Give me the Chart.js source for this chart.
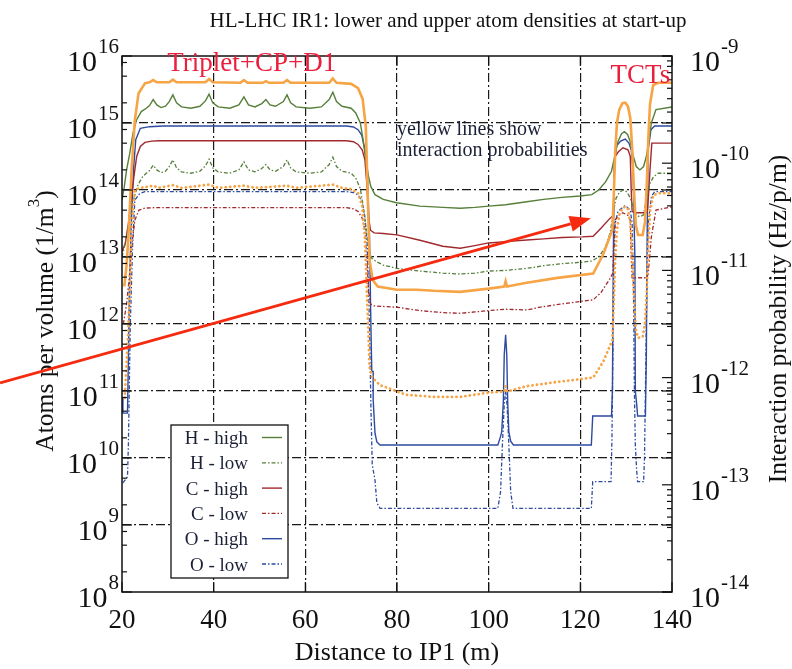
<!DOCTYPE html>
<html>
<head>
<meta charset="utf-8">
<title>HL-LHC IR1 atom densities</title>
<script src="https://cdn.jsdelivr.net/npm/chart.js@4.4.1/dist/chart.umd.min.js"></script>
<style>
  html, body { margin: 0; padding: 0; background: #ffffff; }
  #c { display: block; }
</style>
</head>
<body>
<canvas id="c" width="792" height="669" style="width:792px;height:669px"></canvas>
<script>
// ---------------------------------------------------------------------------
// Data: [distance to IP1 (m), log10(value)]
// Densities in atoms per m^3 (left axis), probabilities in Hz/p/m (right axis)
// ---------------------------------------------------------------------------
const hHigh = [
  [20.0,13.85],[20.5,14.05],[21.0,14.3],[21.7,14.55],[22.4,14.85],[23.2,15.05],[24.2,15.17],[25.3,15.22],
  [26.0,15.26],[26.8,15.35],[27.6,15.27],[28.5,15.23],[29.5,15.25],[30.3,15.32],[31.1,15.42],[31.9,15.3],
  [33.0,15.24],[35.0,15.22],[37.0,15.25],[38.2,15.33],[39.0,15.43],[39.8,15.3],[41.0,15.24],[43.5,15.22],
  [45.5,15.27],[46.6,15.39],[47.6,15.27],[49.0,15.24],[50.5,15.29],[51.4,15.35],[52.3,15.27],[53.5,15.25],
  [55.2,15.32],[56.0,15.42],[56.8,15.3],[58.0,15.24],[61.0,15.22],[63.5,15.24],[65.2,15.35],[66.0,15.46],
  [66.8,15.32],[68.0,15.25],[70.0,15.22],[71.0,15.15],[72.0,15.0],[72.6,14.75],[73.2,14.45],[73.8,14.2],
  [74.3,14.05],[75.2,13.93],[77.0,13.86],[79.9,13.81],[85.0,13.76],[90.0,13.74],[93.8,13.727],[97.0,13.74],
  [100.0,13.76],[103.7,13.78],[108.3,13.825],[112.0,13.86],[116.0,13.89],[120.0,13.91],[122.5,13.93],
  [124.0,14.0],[125.5,14.12],[126.8,14.28],[127.5,14.5],[128.2,14.72],[129.0,14.84],[129.6,14.87],
  [130.3,14.83],[130.9,14.72],[131.5,14.52],[132.2,14.35],[133.0,14.30],[133.8,14.35],[134.4,14.5],
  [134.9,14.7],[135.5,15.0],[136.5,15.2],[140.0,15.24]
];
const hLow = [
  [20.0,13.0],[20.7,13.2],[21.4,13.45],[22.0,13.7],[22.7,13.9],[23.5,14.08],[24.5,14.2],[25.3,14.25],
  [26.0,14.29],[26.8,14.37],[27.6,14.3],[28.5,14.26],[29.5,14.28],[30.3,14.35],[31.1,14.45],[31.9,14.33],
  [33.0,14.27],[35.0,14.25],[37.0,14.28],[38.2,14.36],[39.0,14.46],[39.8,14.33],[41.0,14.27],[43.5,14.25],
  [45.5,14.3],[46.6,14.42],[47.6,14.3],[49.0,14.27],[50.5,14.32],[51.4,14.38],[52.3,14.3],[53.5,14.28],
  [55.2,14.35],[56.0,14.45],[56.8,14.33],[58.0,14.27],[61.0,14.25],[63.5,14.27],[65.2,14.38],[66.0,14.49],
  [66.8,14.35],[68.0,14.28],[70.0,14.25],[71.0,14.18],[72.0,14.02],[72.7,13.72],[73.3,13.38],[73.9,13.12],
  [74.5,12.98],[75.5,12.93],[77.0,12.88],[79.9,12.83],[85.0,12.79],[90.0,12.76],[93.8,12.746],[97.0,12.76],
  [100.0,12.79],[103.7,12.8],[108.3,12.83],[112.0,12.87],[116.0,12.9],[120.0,12.92],[122.5,12.94],
  [124.0,13.0],[125.5,13.15],[126.5,13.36],[127.3,13.7],[127.8,13.88],[128.6,13.97],[129.4,14.0],
  [130.2,13.97],[130.9,13.88],[131.6,13.72],[132.3,13.62],[133.0,13.6],[133.8,13.63],[134.5,13.9],
  [135.2,14.1],[136.0,14.2],[137.0,14.25],[140.0,14.25]
];
const cHigh = [
  [20.0,13.08],[20.7,13.2],[21.4,13.5],[22.0,13.85],[22.6,14.2],[23.2,14.5],[24.0,14.65],[25.0,14.71],
  [26.5,14.73],[28.0,14.736],[69.0,14.736],[70.5,14.72],[71.5,14.68],[72.4,14.6],[73.0,14.45],[73.4,14.1],
  [73.8,13.6],[74.2,13.4],[75.0,13.36],[77.0,13.35],[80.0,13.33],[85.0,13.25],[90.0,13.16],[93.8,13.13],
  [97.0,13.17],[100.0,13.21],[103.7,13.23],[108.3,13.254],[112.0,13.27],[116.0,13.29],[120.4,13.30],
  [122.8,13.31],[124.5,13.43],[126.5,13.58],[127.2,13.62],[127.4,14.2],[127.6,14.5],[128.3,14.57],
  [129.3,14.63],[130.4,14.6],[130.9,14.5],[131.1,14.0],[131.3,13.68],[132.0,13.66],[134.5,13.66],
  [134.7,13.72],[135.2,14.3],[135.6,14.7],[140.0,14.70]
];
const cLow = [
  [20.3,12.0],[21.0,12.3],[21.6,12.7],[22.1,13.15],[22.8,13.55],[23.7,13.70],[25.0,13.73],[27.0,13.736],
  [69.0,13.736],[70.5,13.72],[71.5,13.68],[72.4,13.58],[73.0,13.4],[73.4,13.0],[73.8,12.5],[74.2,12.3],
  [75.0,12.27],[80.0,12.25],[85.0,12.2],[90.0,12.17],[93.8,12.16],[97.0,12.18],[100.0,12.2],[103.7,12.22],
  [108.3,12.21],[112.0,12.26],[116.0,12.3],[120.4,12.34],[122.8,12.36],[124.5,12.47],[126.5,12.68],
  [127.1,12.76],[127.3,13.2],[127.6,13.55],[128.3,13.62],[129.3,13.66],[130.4,13.62],[130.9,13.55],
  [131.1,13.0],[131.3,12.69],[134.5,12.69],[134.8,12.75],[135.5,13.3],[136.5,13.70],[140.0,13.75]
];
const oHigh = [
  [20.0,10.9],[20.2,10.67],[21.2,10.67],[21.4,11.5],[21.6,12.46],[22.0,13.45],[22.5,14.3],[23.0,14.75],
  [24.0,14.92],[26.0,14.945],[29.0,14.955],[69.0,14.955],[70.5,14.94],[71.5,14.9],[72.3,14.82],[73.0,14.6],
  [73.5,14.3],[74.0,13.3],[74.3,12.0],[74.5,11.29],[74.8,11.29],[74.8,10.87],[75.2,10.37],[75.6,10.24],
  [76.3,10.194],[102.0,10.194],[102.5,10.3],[102.85,10.39],[103.2,10.84],[103.4,11.54],[103.7,11.84],
  [103.95,11.54],[104.15,10.84],[104.4,10.39],[104.8,10.25],[105.4,10.194],[122.4,10.194],[122.7,10.627],
  [126.8,10.627],[127.0,11.0],[127.2,13.0],[127.4,14.4],[127.9,14.66],[128.8,14.73],[129.8,14.76],
  [130.6,14.7],[131.1,14.6],[131.5,14.3],[131.9,13.0],[132.0,11.0],[132.3,10.8],[132.5,10.627],
  [134.2,10.627],[134.4,11.5],[134.6,13.5],[134.8,14.6],[135.4,14.9],[136.2,14.955],[140.0,14.955]
];
const oLow = [
  [20.2,9.63],[21.2,9.72],[21.4,10.22],[21.8,11.96],[22.3,13.15],[22.8,13.85],[23.9,13.95],[25.0,13.975],
  [69.0,13.975],[70.5,13.96],[71.5,13.93],[72.3,13.85],[73.0,13.6],[73.5,13.2],[74.0,12.0],[74.3,10.8],
  [74.6,9.9],[75.2,9.67],[75.6,9.33],[76.3,9.249],[102.0,9.249],[102.6,9.5],[103.0,10.2],[103.4,10.8],
  [103.7,11.0],[104.0,10.8],[104.4,10.2],[104.8,9.5],[105.3,9.249],[122.4,9.249],[122.7,9.646],
  [126.7,9.646],[126.9,10.3],[127.1,11.5],[127.3,12.8],[127.6,13.5],[128.2,13.68],[129.8,13.77],
  [130.9,13.7],[131.3,13.5],[131.6,12.5],[131.8,11.0],[132.0,10.2],[132.3,9.8],[132.5,9.646],
  [133.8,9.646],[134.0,10.0],[134.2,11.0],[134.5,12.5],[134.8,13.5],[135.5,13.9],[136.2,13.975],[140.0,13.975]
];
const probHigh = [
  [20.5,-11.15],[21.0,-10.95],[21.4,-10.69],[22.1,-10.06],[22.8,-9.6],[23.6,-9.35],[25.0,-9.255],[26.0,-9.245],
  [26.8,-9.225],[27.6,-9.245],[30.3,-9.245],[31.1,-9.22],[31.9,-9.245],[38.2,-9.245],[39.0,-9.215],[39.8,-9.245],
  [45.8,-9.25],[46.6,-9.225],[47.4,-9.25],[50.7,-9.25],[51.4,-9.235],[52.1,-9.25],[55.2,-9.25],[56.0,-9.225],
  [56.8,-9.25],[65.2,-9.25],[66.0,-9.21],[66.8,-9.25],[70.0,-9.26],[71.5,-9.3],[72.5,-9.4],[73.2,-9.66],
  [73.6,-10.28],[74.0,-10.9],[74.7,-11.09],[75.8,-11.15],[80.0,-11.18],[84.3,-11.18],[88.0,-11.19],
  [93.75,-11.20],[100.0,-11.17],[103.4,-11.15],[103.7,-11.10],[104.0,-11.15],[108.3,-11.115],[115.0,-11.07],
  [122.8,-11.03],[125.0,-10.85],[127.0,-10.62],[127.3,-10.3],[127.6,-9.9],[128.0,-9.62],[128.5,-9.5],
  [129.2,-9.44],[129.8,-9.435],[130.4,-9.47],[130.9,-9.58],[131.3,-9.85],[131.7,-10.25],[132.1,-10.58],
  [132.6,-10.67],[133.6,-10.67],[134.1,-10.55],[134.5,-10.2],[134.8,-9.8],[135.2,-9.45],[135.9,-9.27],
  [137.0,-9.25],[140.0,-9.25]
];
const probLow = [
  [20.6,-12.19],[21.1,-11.8],[21.7,-11.21],[22.1,-10.59],[22.8,-10.25],[24.0,-10.23],[26.8,-10.21],[28.0,-10.23],
  [31.1,-10.205],[33.0,-10.23],[39.0,-10.2],[41.0,-10.23],[46.6,-10.21],[49.0,-10.23],[56.0,-10.21],[58.0,-10.23],
  [66.0,-10.2],[68.0,-10.23],[70.0,-10.24],[71.5,-10.28],[72.4,-10.4],[73.0,-10.7],[73.6,-11.4],[74.0,-11.9],
  [74.6,-12.0],[76.3,-12.07],[82.0,-12.16],[88.0,-12.18],[93.75,-12.18],[100.0,-12.14],[103.4,-12.13],
  [103.7,-12.08],[104.0,-12.13],[108.3,-12.08],[115.0,-12.04],[122.8,-12.0],[125.0,-11.85],[127.0,-11.65],
  [127.3,-11.3],[127.6,-10.9],[128.0,-10.62],[128.5,-10.48],[129.2,-10.42],[129.8,-10.405],[130.4,-10.43],
  [130.9,-10.55],[131.3,-10.85],[131.7,-11.25],[132.1,-11.55],[132.6,-11.63],[133.6,-11.62],[134.1,-11.5],
  [134.5,-11.2],[134.8,-10.8],[135.2,-10.45],[135.9,-10.3],[137.0,-10.28],[140.0,-10.28]
];

// Axis ranges and tick labels
const xTicks = [20, 40, 60, 80, 100, 120, 140];
const densityDecades = [8, 9, 10, 11, 12, 13, 14, 15, 16];
const probDecades = [-14, -13, -12, -11, -10, -9];
const seriesNames = ['H - high', 'H - low', 'C - high', 'C - low', 'O - high', 'O - low'];

// Text annotations, placed in data coordinates [x (m), log10 density]
const regionLabels = [
  { text: 'Triplet+CP+D1', at: [48.3, 15.78] },
  { text: 'TCTs', at: [133.1, 15.6] }
];
const noteLines = ['yellow lines show', 'interaction probabilities'];
const notePos = [80.0, 14.82];
const arrowFrom = [-6.6, 11.12];
const arrowTo = [122.3, 13.58];

// ---------------------------------------------------------------------------
const FONT = '"Liberation Serif", "Times New Roman", Times, serif';
const INK = '#1b2036';
const toPts = arr => arr.map(([x, l]) => ({ x: x, y: Math.pow(10, l) }));

const GREEN = '#567f3a', RED = '#a0292e', BLUE = '#2c4ba0', ORANGE = '#f6a445';
const DASH_LOW = [4, 2, 1.5, 2];

const datasets = [
  { label: 'probability (upper)', data: toPts(probHigh), yAxisID: 'y2', borderColor: ORANGE, borderWidth: 2.6, order: 0 },
  { label: 'probability (lower)', data: toPts(probLow), yAxisID: 'y2', borderColor: ORANGE, borderWidth: 2.8,
    borderDash: [0.1, 4.4], borderCapStyle: 'round', order: 0 },
  { label: seriesNames[0], data: toPts(hHigh), yAxisID: 'y', borderColor: GREEN, borderWidth: 1.4, order: 1, key: true },
  { label: seriesNames[1], data: toPts(hLow), yAxisID: 'y', borderColor: GREEN, borderWidth: 1.3, borderDash: DASH_LOW, order: 1, key: true },
  { label: seriesNames[2], data: toPts(cHigh), yAxisID: 'y', borderColor: RED, borderWidth: 1.4, order: 1, key: true },
  { label: seriesNames[3], data: toPts(cLow), yAxisID: 'y', borderColor: RED, borderWidth: 1.3, borderDash: DASH_LOW, order: 1, key: true },
  { label: seriesNames[4], data: toPts(oHigh), yAxisID: 'y', borderColor: BLUE, borderWidth: 1.4, order: 1, key: true },
  { label: seriesNames[5], data: toPts(oLow), yAxisID: 'y', borderColor: BLUE, borderWidth: 1.3, borderDash: DASH_LOW, order: 1, key: true }
];
datasets.forEach(d => { d.pointRadius = 0; d.tension = 0; d.fill = false; });

const GRID_DASH = [9, 3, 2, 3];
const gridColor = ends => ctx => (ends.includes(ctx.tick && ctx.tick.value) ? 'rgba(0,0,0,0)' : '#1a1a1a');

// "10" with a raised exponent
function drawPower(ctx, exp, x, y, align) {
  ctx.font = '30px ' + FONT;
  const wb = ctx.measureText('10').width;
  ctx.font = '21px ' + FONT;
  const we = ctx.measureText(exp).width;
  const x0 = align === 'right' ? x - wb - we - 1 : x;
  ctx.textAlign = 'left';
  ctx.textBaseline = 'alphabetic';
  ctx.font = '30px ' + FONT;
  ctx.fillText('10', x0, y + 15);
  ctx.font = '21px ' + FONT;
  ctx.fillText(exp, x0 + wb + 1, y - 3);
}

function seg(ctx, x1, y1, x2, y2) {
  ctx.beginPath(); ctx.moveTo(x1, y1); ctx.lineTo(x2, y2); ctx.stroke();
}

const background = {
  id: 'background',
  beforeDraw(chart) {
    const ctx = chart.ctx;
    ctx.save(); ctx.fillStyle = '#ffffff'; ctx.fillRect(0, 0, chart.width, chart.height); ctx.restore();
  }
};

const frameAndText = {
  id: 'frameAndText',
  afterDatasetsDraw(chart) {
    const { ctx, chartArea: a, scales: { x, y, y2 } } = chart;
    ctx.save();

    // frame
    ctx.strokeStyle = '#111'; ctx.lineWidth = 1.5; ctx.setLineDash([]);
    ctx.strokeRect(a.left, a.top, a.right - a.left, a.bottom - a.top);

    // inward tick marks
    ctx.lineWidth = 1.2;
    xTicks.forEach(v => {
      const px = x.getPixelForValue(v);
      seg(ctx, px, a.bottom, px, a.bottom - 10);
      seg(ctx, px, a.top, px, a.top + 10);
    });
    densityDecades.forEach(k => {
      const py = y.getPixelForValue(Math.pow(10, k));
      seg(ctx, a.left, py, a.left + 10, py);
      seg(ctx, a.right, py, a.right - 10, py);
      if (k < 16) {
        [2, 5, 8].forEach(m => {
          const pm = y.getPixelForValue(m * Math.pow(10, k));
          seg(ctx, a.left, pm, a.left + 5, pm);
        });
      }
    });
    probDecades.forEach(k => {
      const py = y2.getPixelForValue(Math.pow(10, k));
      seg(ctx, a.right, py, a.right - 10, py);
      if (k < -9) {
        for (let m = 2; m <= 9; m++) {
          const pm = y2.getPixelForValue(m * Math.pow(10, k));
          seg(ctx, a.right, pm, a.right - 5, pm);
        }
      }
    });

    // key box
    const bx = 171, by = 425, bw = 117, bh = 153;
    ctx.fillStyle = '#ffffff';
    ctx.fillRect(bx, by, bw, bh);
    ctx.strokeStyle = '#111'; ctx.lineWidth = 1.3;
    ctx.strokeRect(bx, by, bw, bh);
    const keyed = chart.data.datasets.filter(d => d.key);
    ctx.font = '19px ' + FONT;
    ctx.textAlign = 'right'; ctx.textBaseline = 'alphabetic';
    keyed.forEach((d, i) => {
      const base = by + 19 + i * 25.3;
      ctx.fillStyle = INK;
      ctx.fillText(d.label, bx + 77, base);
      ctx.strokeStyle = d.borderColor; ctx.lineWidth = d.borderWidth;
      ctx.setLineDash(d.borderDash || []);
      seg(ctx, bx + 91, base - 6.5, bx + 111, base - 6.5);
      ctx.setLineDash([]);
    });

    ctx.restore();
  },
  afterDraw(chart) {
    const { ctx, chartArea: a, scales: { x, y, y2 } } = chart;
    ctx.save();
    ctx.fillStyle = '#111';

    // title
    ctx.font = '21px ' + FONT; ctx.textAlign = 'center'; ctx.textBaseline = 'alphabetic';
    ctx.fillText('HL-LHC IR1: lower and upper atom densities at start-up', 448, 27);

    // x tick labels
    ctx.font = '27px ' + FONT;
    xTicks.forEach(v => ctx.fillText(String(v), x.getPixelForValue(v), a.bottom + 36));

    // x title
    ctx.font = '26px ' + FONT;
    ctx.fillText('Distance to IP1 (m)', (a.left + a.right) / 2, 660);

    // left and right decade labels
    densityDecades.forEach(k => drawPower(ctx, String(k), a.left - 3, y.getPixelForValue(Math.pow(10, k)), 'right'));
    probDecades.forEach(k => drawPower(ctx, String(k), a.right + 18, y2.getPixelForValue(Math.pow(10, k)), 'left'));

    // left axis title with superscript
    ctx.save();
    ctx.translate(46, 321);
    ctx.rotate(-Math.PI / 2);
    ctx.font = '25.5px ' + FONT;
    const t1 = 'Atoms per volume (1/m';
    const w1 = ctx.measureText(t1).width;
    ctx.font = '17px ' + FONT;
    const w3 = ctx.measureText('3').width;
    ctx.font = '25.5px ' + FONT;
    const w4 = ctx.measureText(')').width;
    const start = -(w1 + w3 + w4) / 2;
    ctx.textAlign = 'left'; ctx.textBaseline = 'middle';
    ctx.fillText(t1, start, 0);
    ctx.font = '17px ' + FONT;
    ctx.fillText('3', start + w1, -11);
    ctx.font = '25.5px ' + FONT;
    ctx.fillText(')', start + w1 + w3, 0);
    ctx.restore();

    // right axis title
    ctx.save();
    ctx.translate(779, 319);
    ctx.rotate(-Math.PI / 2);
    ctx.font = '25.5px ' + FONT; ctx.textAlign = 'center'; ctx.textBaseline = 'middle';
    ctx.fillText('Interaction probability (Hz/p/m)', 0, 0);
    ctx.restore();

    // region labels
    ctx.fillStyle = '#ea1f3d';
    ctx.font = '27px ' + FONT; ctx.textAlign = 'center'; ctx.textBaseline = 'alphabetic';
    regionLabels.forEach(r => {
      ctx.fillText(r.text, x.getPixelForValue(r.at[0]), y.getPixelForValue(Math.pow(10, r.at[1])));
    });

    // note about the yellow lines
    ctx.fillStyle = INK; ctx.font = '20px ' + FONT; ctx.textAlign = 'left';
    const nx = x.getPixelForValue(notePos[0]);
    const ny = y.getPixelForValue(Math.pow(10, notePos[1]));
    noteLines.forEach((t, i) => ctx.fillText(t, nx, ny + i * 20.5));

    // arrow
    const x1 = x.getPixelForValue(arrowFrom[0]), y1 = y.getPixelForValue(Math.pow(10, arrowFrom[1]));
    const x2 = x.getPixelForValue(arrowTo[0]), y2p = y.getPixelForValue(Math.pow(10, arrowTo[1]));
    const ang = Math.atan2(y2p - y1, x2 - x1);
    const hl = 21, hw = 8;
    const bxp = x2 - hl * Math.cos(ang), byp = y2p - hl * Math.sin(ang);
    ctx.strokeStyle = '#f52a0e'; ctx.fillStyle = '#f52a0e'; ctx.lineWidth = 2.8;
    seg(ctx, x1, y1, bxp, byp);
    ctx.beginPath();
    ctx.moveTo(x2, y2p);
    ctx.lineTo(bxp + hw * Math.sin(ang), byp - hw * Math.cos(ang));
    ctx.lineTo(bxp - hw * Math.sin(ang), byp + hw * Math.cos(ang));
    ctx.closePath();
    ctx.fill();

    ctx.restore();
  }
};

new Chart(document.getElementById('c'), {
  type: 'line',
  data: { datasets: datasets },
  options: {
    responsive: false,
    devicePixelRatio: 1,
    animation: false,
    events: [],
    layout: { padding: { top: 56, left: 0, right: 0, bottom: 0 } },
    plugins: { legend: { display: false }, title: { display: false }, tooltip: { enabled: false } },
    scales: {
      x: {
        type: 'linear', min: 20, max: 140,
        ticks: { display: false, stepSize: 20 },
        grid: { color: gridColor([20, 140]), lineWidth: 1.2, drawTicks: false, tickLength: 0 },
        border: { display: false, dash: GRID_DASH },
        afterFit(s) { s.height = 77; }
      },
      y: {
        type: 'logarithmic', position: 'left', min: 1e8, max: 1e16,
        ticks: { display: false },
        afterBuildTicks(s) { s.ticks = densityDecades.map(k => ({ value: Math.pow(10, k) })); },
        grid: { color: gridColor([1e8, 1e16]), lineWidth: 1.2, drawTicks: false, tickLength: 0 },
        border: { display: false, dash: GRID_DASH },
        afterFit(s) { s.width = 122; }
      },
      y2: {
        type: 'logarithmic', position: 'right', min: 1e-14, max: 1e-9,
        ticks: { display: false },
        grid: { display: false, drawOnChartArea: false, drawTicks: false },
        border: { display: false },
        afterFit(s) { s.width = 120; }
      }
    }
  },
  plugins: [background, frameAndText]
});
</script>
</body>
</html>
